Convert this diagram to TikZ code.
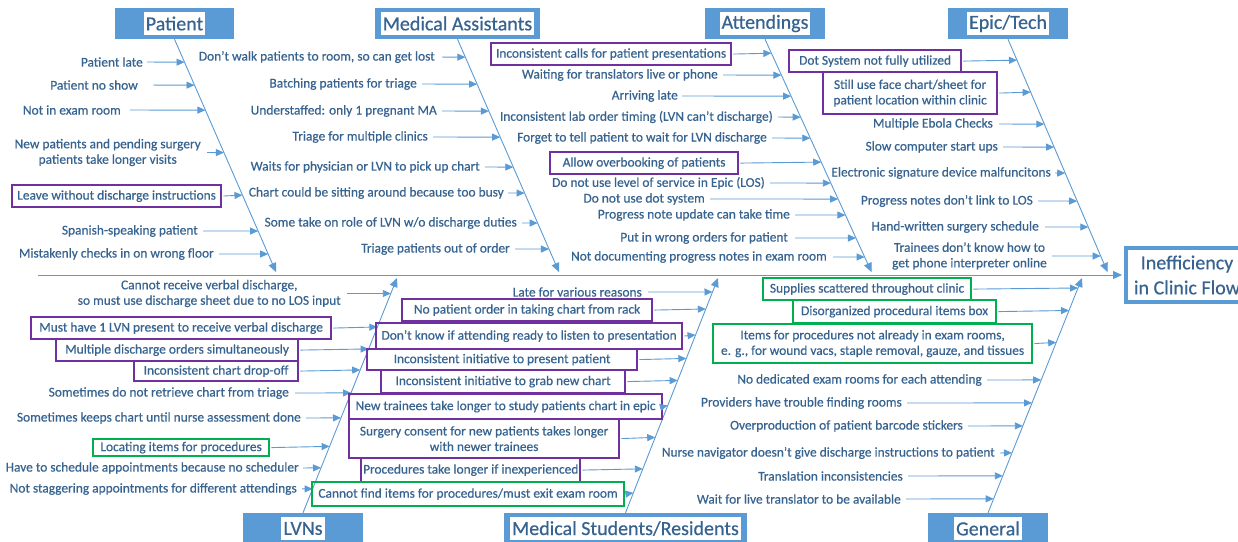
\documentclass[tikz,border=0pt]{standalone}
\usepackage{fontspec}
\setmainfont{Carlito}
\newfontfamily\lblfont{Carlito}[FakeBold=0.45]
\usetikzlibrary{arrows.meta,calc}
\definecolor{lb}{HTML}{5B9BD5}
\definecolor{tc}{HTML}{36638F}
\definecolor{pp}{HTML}{7030A0}
\definecolor{gg}{HTML}{00B050}
\begin{document}
\begin{tikzpicture}[x=1pt,y=-1pt,
  lbl/.style={text=tc, font=\lblfont\fontsize{13.4}{15.5}\selectfont, inner xsep=0pt, inner ysep=1pt, align=center},
  cbox/.style={lbl, line width=2.2pt, inner xsep=2pt, anchor=north west},
  arr/.style={draw=lb, line width=0.9pt, -{Triangle[length=8pt,width=7pt]}},
  bone/.style={draw=lb, line width=0.9pt, -{Triangle[length=9pt,width=8pt]}},
  hdr/.style={fill=lb, inner sep=0pt, minimum height=31pt},
  hdrin/.style={fill=white, text=tc, font=\lblfont\fontsize{20}{24}\selectfont, inner xsep=2pt, inner ysep=0pt, minimum height=23pt},
]
\clip (0,0) rectangle (1238,541);
\fill[white] (0,0) rectangle (1238,541);

% headers
\node[hdr, minimum width=119pt] (PatHead) at (174.5,23.5) {};
\node[hdrin] (PatT) at (PatHead) {Patient};
\node[hdr, minimum width=165pt] (MAHead) at (457.5,23.5) {};
\node[hdrin] (MAT) at (MAHead) {Medical Assistants};
\node[hdr, minimum width=120pt] (AttHead) at (765,23.5) {};
\node[hdrin] (AttT) at (AttHead) {Attendings};
\node[hdr, minimum width=120pt] (EpHead) at (1008,23.5) {};
\node[hdrin] (EpT) at (EpHead) {Epic/Tech};
\node[hdr, minimum width=120pt] (LvHead) at (303,528.5) {};
\node[hdrin] (LvT) at (LvHead) {LVNs};
\node[hdr, minimum width=243pt] (MsHead) at (625.5,528.5) {};
\node[hdrin] (MsT) at (MsHead) {Medical Students/Residents};
\node[hdr, minimum width=120pt] (GeHead) at (988,528.5) {};
\node[hdrin] (GeT) at (GeHead) {General};

% effect
\node[draw=lb, line width=4pt, fill=white, minimum width=122pt, minimum height=54pt,
      text=tc, font=\lblfont\fontsize{20}{25}\selectfont, align=center] (Eff) at (1187,275) {Inefficiency\\in Clinic Flow};

% spine and bones
\coordinate (SpS) at (38,275);
\draw[bone, shorten >=2pt] (SpS) -- (Eff.west);
\coordinate (PatTip) at (276,272);
\coordinate (MATip) at (559,272);
\coordinate (AttTip) at (871.5,272);
\coordinate (EpTip) at (1107.5,272);
\coordinate (LvTip) at (397,278);
\coordinate (MsTip) at (718,278);
\coordinate (GeTip) at (1082,278);
\draw[bone] (PatHead.south) -- (PatTip);
\draw[bone] (MAHead.south) -- (MATip);
\draw[bone] (AttHead.south) -- (AttTip);
\draw[bone] (EpHead.south) -- (EpTip);
\draw[bone] (LvHead.north) -- (LvTip);
\draw[bone] (MsHead.north) -- (MsTip);
\draw[bone] (GeHead.north) -- (GeTip);

% ---------- Patient
\foreach \nm/\xr/\yy/\g/\tx in {
  p1/143/62/4/{Patient late},
  p2/138/85/15/{Patient no show},
  p3/121/110/9/{Not in exam room},
  p4/201/152.5/6/{New patients and pending surgery\\patients take longer visits},
  p6/198/231/5/{Spanish-speaking patient},
  p7/214/254/5/{Mistakenly checks in on wrong floor}}{
  \node[lbl,anchor=east] (\nm) at (\xr,\yy) {\tx};
  \coordinate (e\nm) at ($(PatHead.south)!{(\yy-39)/233}!(PatTip)$);
  \draw[arr, shorten <=\g] (\nm.east) -- (e\nm);
}
\foreach \nm/\bc/\xa/\ya/\xb/\yb/\tx in {
  p5/pp/11/184/220/206/{Leave without discharge instructions}}{
  \node[cbox, draw=\bc, minimum width={\xb-\xa}, minimum height={\yb-\ya}] (\nm) at (\xa,\ya) {\tx};
  \coordinate (e\nm) at ($(PatHead.south)!{((\ya+\yb)/2-39)/233}!(PatTip)$);
  \draw[arr, shorten <=1.1] (\nm.east) -- (e\nm);
}

% ---------- Medical Assistants
\foreach \nm/\xr/\yy/\g/\tx in {
  m1/435/57/7/{Don’t walk patients to room, so can get lost},
  m2/417/84/5/{Batching patients for triage},
  m3/437/111/5/{Understaffed: only 1 pregnant MA},
  m4/428/137/5/{Triage for multiple clinics},
  m5/480/167/5/{Waits for physician or LVN to pick up chart},
  m6/504/193/4/{Chart could be sitting around because too busy},
  m7/517/223/5/{Some take on role of LVN w/o discharge duties},
  m8/510/249/5/{Triage patients out of order}}{
  \node[lbl,anchor=east] (\nm) at (\xr,\yy) {\tx};
  \coordinate (e\nm) at ($(MAHead.south)!{(\yy-39)/233}!(MATip)$);
  \draw[arr, shorten <=\g] (\nm.east) -- (e\nm);
}

% ---------- Attendings
\foreach \nm/\xr/\yy/\g/\tx in {
  a2/718/75/5/{Waiting for translators live or phone},
  a3/678/96/4/{Arriving late},
  a4/773/117/5/{Inconsistent lab order timing (LVN can’t discharge)},
  a5/767/138/5/{Forget to tell patient to wait for LVN discharge},
  a7/765/183/5/{Do not use level of service in Epic (LOS)},
  a8/705/199/5/{Do not use dot system},
  a9/790/215/5/{Progress note update can take time},
  a10/788/238/7/{Put in wrong orders for patient},
  a11/827/257/6/{Not documenting progress notes in exam room}}{
  \node[lbl,anchor=east] (\nm) at (\xr,\yy) {\tx};
  \coordinate (e\nm) at ($(AttHead.south)!{(\yy-39)/233}!(AttTip)$);
  \draw[arr, shorten <=\g] (\nm.east) -- (e\nm);
}
\foreach \nm/\bc/\xa/\ya/\xb/\yb/\tx in {
  a1/pp/490/42/730/64/{Inconsistent calls for patient presentations},
  a6/pp/549/151/737/173/{Allow overbooking of patients}}{
  \node[cbox, draw=\bc, minimum width={\xb-\xa}, minimum height={\yb-\ya}] (\nm) at (\xa,\ya) {\tx};
  \coordinate (e\nm) at ($(AttHead.south)!{((\ya+\yb)/2-39)/233}!(AttTip)$);
  \draw[arr, shorten <=1.1] (\nm.east) -- (e\nm);
}

% ---------- Epic/Tech
\foreach \nm/\xr/\yy/\g/\tx in {
  t3/993/124/6/{Multiple Ebola Checks},
  t4/998/147/5/{Slow computer start ups},
  t5/1051/173/4/{Electronic signature device malfuncitons},
  t6/1033/201/5/{Progress notes don’t link to LOS},
  t7/1039/227/6/{Hand-written surgery schedule},
  t8/1047/256/5/{Trainees don’t know how to\\get phone interpreter online}}{
  \node[lbl,anchor=east] (\nm) at (\xr,\yy) {\tx};
  \coordinate (e\nm) at ($(EpHead.south)!{(\yy-39)/233}!(EpTip)$);
  \draw[arr, shorten <=\g] (\nm.east) -- (e\nm);
}
\foreach \nm/\bc/\xa/\ya/\xb/\yb/\tx in {
  t1/pp/788/49/960/71/{Dot System not fully utilized},
  t2/pp/822/71/996/113/{Still use face chart/sheet for\\patient location within clinic}}{
  \node[cbox, draw=\bc, minimum width={\xb-\xa}, minimum height={\yb-\ya}] (\nm) at (\xa,\ya) {\tx};
  \coordinate (e\nm) at ($(EpHead.south)!{((\ya+\yb)/2-39)/233}!(EpTip)$);
  \draw[arr, shorten <=1.1] (\nm.east) -- (e\nm);
}

% ---------- LVNs
\foreach \nm/\xr/\yy/\g/\tx in {
  l1/341/293.5/6/{Cannot receive verbal discharge,\\so must use discharge sheet due to no LOS input},
  l5/289/393/6/{Sometimes do not retrieve chart from triage},
  l6/301/418/5/{Sometimes keeps chart until nurse assessment done},
  l8/299/468/4/{Have to schedule appointments because no scheduler},
  l9/297/489/5/{Not staggering appointments for different attendings}}{
  \node[lbl,anchor=east] (\nm) at (\xr,\yy) {\tx};
  \coordinate (e\nm) at ($(LvHead.north)!{(513-\yy)/235}!(LvTip)$);
  \draw[arr, shorten <=\g] (\nm.east) -- (e\nm);
}
\foreach \nm/\bc/\xa/\ya/\xb/\yb/\tx in {
  l2/pp/30/316/330/338/{Must have 1 LVN present to receive verbal discharge},
  l3/pp/55/338/297/360/{Multiple discharge orders simultaneously},
  l4/pp/133/360/297/380/{Inconsistent chart drop-off},
  l7/gg/92/438/268/455/{Locating items for procedures}}{
  \node[cbox, draw=\bc, minimum width={\xb-\xa}, minimum height={\yb-\ya}] (\nm) at (\xa,\ya) {\tx};
  \coordinate (e\nm) at ($(LvHead.north)!{(513-(\ya+\yb)/2)/235}!(LvTip)$);
  \draw[arr, shorten <=1.1] (\nm.east) -- (e\nm);
}

% ---------- Medical Students/Residents
\foreach \nm/\xr/\yy/\g/\tx in {
  s1/642/292/6/{Late for various reasons}}{
  \node[lbl,anchor=east] (\nm) at (\xr,\yy) {\tx};
  \coordinate (e\nm) at ($(MsHead.north)!{(513-\yy)/235}!(MsTip)$);
  \draw[arr, shorten <=\g] (\nm.east) -- (e\nm);
}
\foreach \nm/\bc/\xa/\ya/\xb/\yb/\tx in {
  s2/pp/401/298/651/320/{No patient order in taking chart from rack},
  s3/pp/375/322/681/348/{Don’t know if attending ready to listen to presentation},
  s4/pp/366/348/636/369/{Inconsistent initiative to present patient},
  s5/pp/380/369/624/392/{Inconsistent initiative to grab new chart},
  s6/pp/348/393/661/418/{New trainees take longer to study patients chart in epic},
  s7/pp/348/418/618/457/{Surgery consent for new patients takes longer\\with newer trainees},
  s8/pp/360/457/579/481/{Procedures take longer if inexperienced},
  s9/gg/311/481/623/505/{Cannot find items for procedures/must exit exam room}}{
  \node[cbox, draw=\bc, minimum width={\xb-\xa}, minimum height={\yb-\ya}] (\nm) at (\xa,\ya) {\tx};
  \coordinate (e\nm) at ($(MsHead.north)!{(513-(\ya+\yb)/2)/235}!(MsTip)$);
  \draw[arr, shorten <=1.1] (\nm.east) -- (e\nm);
}

% ---------- General
\foreach \nm/\xr/\yy/\g/\tx in {
  g4/982/380/5/{No dedicated exam rooms for each attending},
  g5/902/403/5/{Providers have trouble finding rooms},
  g6/963/426/5/{Overproduction of patient barcode stickers},
  g7/995/453/5/{Nurse navigator doesn’t give discharge instructions to patient},
  g8/903/476/5/{Translation inconsistencies},
  g9/901/499/5/{Wait for live translator to be available}}{
  \node[lbl,anchor=east] (\nm) at (\xr,\yy) {\tx};
  \coordinate (e\nm) at ($(GeHead.north)!{(513-\yy)/235}!(GeTip)$);
  \draw[arr, shorten <=\g] (\nm.east) -- (e\nm);
}
\foreach \nm/\bc/\xa/\ya/\xb/\yb/\tx in {
  g1/gg/762/277/970/299/{Supplies scattered throughout clinic},
  g2/gg/792/299/995/322/{Disorganized procedural items box},
  g3/gg/712/323/1031/362/{Items for procedures not already in exam rooms,\\e. g., for wound vacs, staple removal, gauze, and tissues}}{
  \node[cbox, draw=\bc, minimum width={\xb-\xa}, minimum height={\yb-\ya}] (\nm) at (\xa,\ya) {\tx};
  \coordinate (e\nm) at ($(GeHead.north)!{(513-(\ya+\yb)/2)/235}!(GeTip)$);
  \draw[arr, shorten <=1.1] (\nm.east) -- (e\nm);
}
\end{tikzpicture}
\end{document}
